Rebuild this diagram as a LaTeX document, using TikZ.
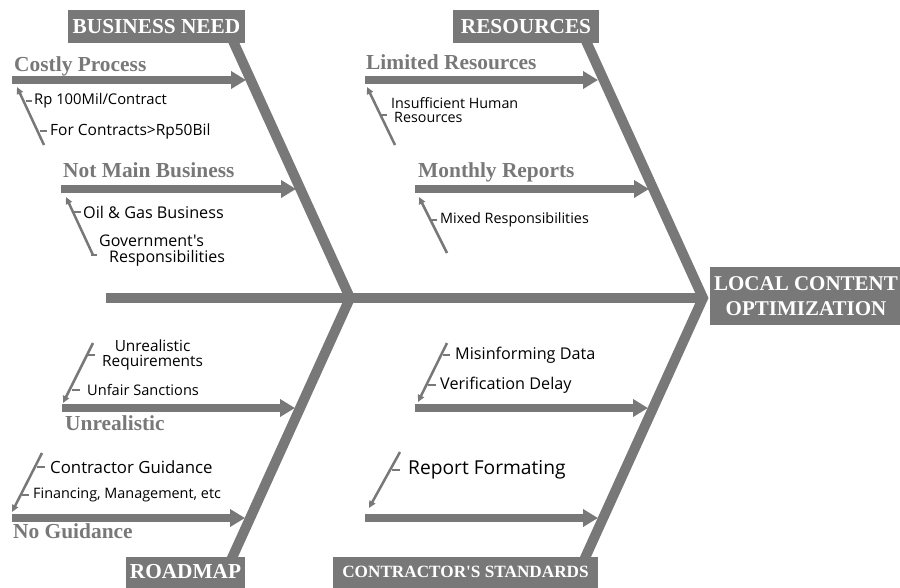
\documentclass[tikz,border=0pt]{standalone}
\usepackage{fontspec}
\setmainfont{Liberation Serif}
\newfontfamily\causefont{Open Sans}
\usetikzlibrary{arrows.meta}
\definecolor{fg}{HTML}{787878}
\newcommand{\csize}[1]{\causefont\fontsize{#1}{#1}\selectfont}
\begin{document}
\begin{tikzpicture}[x=1pt,y=-1pt,
  bone/.style={draw=fg, line width=10pt, line join=miter},
  catarrow/.style={draw=fg, line width=8pt, -{Triangle[length=15pt,width=17pt]}},
  subarrow/.style={draw=fg, line width=2.5pt, -{Triangle[length=7pt,width=6.5pt]}},
  tickline/.style={draw=fg, line width=1.5pt},
  headbox/.style={fill=fg, text=white, font=\bfseries\fontsize{21.3}{25}\selectfont, inner sep=0pt, align=center},
  catlabel/.style={text=fg, font=\bfseries\fontsize{21.4}{23}\selectfont, anchor=base west, inner sep=0pt},
  cause/.style={anchor=west, inner sep=0pt, align=left},
]
\useasboundingbox (0,0) rectangle (900,587);

% ---- spine and bones
\coordinate (tail) at (106,298);
\coordinate (J1) at (350,298);
\coordinate (J2) at (703,298);
\coordinate (ul) at (228,30);
\coordinate (ll) at (222,580);
\coordinate (ur) at (581,30);
\coordinate (lr) at (575,580);
\draw[bone] (tail) -- (J2);
\draw[bone] (ul) -- (J1) -- (ll);
\draw[bone] (ur) -- (J2) -- (lr);

% ---- heads
\node[headbox, minimum width=192pt, minimum height=58pt, font=\bfseries\fontsize{21}{24.5}\selectfont] (effect) at (806,296) {LOCAL CONTENT\\OPTIMIZATION};
\node[headbox, minimum width=177pt, minimum height=33pt] (bn) at (156.5,26.5) {BUSINESS NEED};
\node[headbox, minimum width=146pt, minimum height=33pt] (res) at (526,26.5) {RESOURCES};
\node[headbox, minimum width=119pt, minimum height=31pt] (rm) at (185.5,572) {ROADMAP};
\node[headbox, minimum width=265pt, minimum height=31pt, font=\bfseries\fontsize{17.2}{19}\selectfont] (cs) at (465.5,572) {CONTRACTOR\textquotesingle S STANDARDS};

% ---- BUSINESS NEED
\coordinate (cp0) at (12,80); \coordinate (cp1) at (246,80);
\draw[catarrow] (cp0) -- (cp1);
\node[catlabel] (cpl) at (14,71) {Costly Process};
\coordinate (cps0) at (44,145); \coordinate (cps1) at (17,87);
\draw[subarrow] (cps0) -- (cps1);
\node[cause, font=\csize{14.8}] (c1) at (34,101) {Rp 100Mil/Contract};
\draw[tickline] ([xshift=-2pt]c1.west) -- ++(-6,0);
\node[cause, font=\csize{15.5}] (c2) at (50,131) {For Contracts>Rp50Bil};
\draw[tickline] ([xshift=-3pt]c2.west) -- ++(-7,0);

\coordinate (nm0) at (61,189); \coordinate (nm1) at (296,189);
\draw[catarrow] (nm0) -- (nm1);
\node[catlabel] (nml) at (63,177) {Not Main Business};
\coordinate (nms0) at (93,255); \coordinate (nms1) at (66,197);
\draw[subarrow] (nms0) -- (nms1);
\node[cause, font=\csize{16.2}] (c3) at (83,212) {Oil \& Gas Business};
\draw[tickline] ([xshift=-2pt]c3.west) -- ++(-7,0);
\node[cause, font=\csize{16}] (c4) at (99,251) {Government's\\\hspace*{10pt}Responsibilities};
\draw[tickline] ([xshift=-2pt,yshift=-4pt]c4.west) -- ++(-6,0);

% ---- RESOURCES
\coordinate (lr0) at (365,80); \coordinate (lr1) at (598,80);
\draw[catarrow] (lr0) -- (lr1);
\node[catlabel] (lrl) at (366,69) {Limited Resources};
\coordinate (lrs0) at (395,145); \coordinate (lrs1) at (367,87);
\draw[subarrow] (lrs0) -- (lrs1);
\node[cause, font=\csize{14.3}] (c5) at (391,110) {Insufficient Human\\\hspace*{3pt}Resources};
\draw[tickline] ([xshift=-4pt,yshift=-5pt]c5.west) -- ++(-6,0);

\coordinate (mr0) at (415,189); \coordinate (mr1) at (649,189);
\draw[catarrow] (mr0) -- (mr1);
\node[catlabel] (mrl) at (418,177) {Monthly Reports};
\coordinate (mrs0) at (447,253); \coordinate (mrs1) at (419,197);
\draw[subarrow] (mrs0) -- (mrs1);
\node[cause, font=\csize{14.4}] (c6) at (440,220) {Mixed Responsibilities};
\draw[tickline] ([xshift=-3pt]c6.west) -- ++(-6,0);

% ---- ROADMAP
\coordinate (un0) at (62,408); \coordinate (un1) at (295,408);
\draw[catarrow] (un0) -- (un1);
\node[catlabel] (unl) at (65,430) {Unrealistic};
\coordinate (uns0) at (93,343); \coordinate (uns1) at (63,403);
\draw[subarrow] (uns0) -- (uns1);
\node[cause, align=center, font=\csize{15.4}] (c7) at (102,355) {Unrealistic\\Requirements};
\draw[tickline] ([xshift=-7pt]c7.west) -- ++(-7,0);
\node[cause, font=\csize{14.6}] (c8) at (87,390) {Unfair Sanctions};
\draw[tickline] ([xshift=-7pt]c8.west) -- ++(-8,0);

\coordinate (ng0) at (12,518); \coordinate (ng1) at (245,518);
\draw[catarrow] (ng0) -- (ng1);
\node[catlabel] (ngl) at (13,538) {No Guidance};
\coordinate (ngs0) at (42,453); \coordinate (ngs1) at (12,512);
\draw[subarrow] (ngs0) -- (ngs1);
\node[cause, font=\csize{16.8}] (c9) at (50,467) {Contractor Guidance};
\draw[tickline] ([xshift=-5pt]c9.west) -- ++(-8,0);
\node[cause, font=\csize{14.4}] (c10) at (33,495) {Financing, Management, etc};
\draw[tickline] ([xshift=-4pt]c10.west) -- ++(-7,0);

% ---- CONTRACTOR'S STANDARDS
\coordinate (vd0) at (415,408); \coordinate (vd1) at (648,408);
\draw[catarrow] (vd0) -- (vd1);
\coordinate (vds0) at (447,343); \coordinate (vds1) at (418,402);
\draw[subarrow] (vds0) -- (vds1);
\node[cause, font=\csize{16.2}] (c11) at (455,355) {Misinforming Data};
\draw[tickline] ([xshift=-5pt]c11.west) -- ++(-7,0);
\node[cause, font=\csize{16.2}] (c12) at (440,385) {Verification Delay};
\draw[tickline] ([xshift=-4pt]c12.west) -- ++(-8,0);

\coordinate (rf0) at (365,518); \coordinate (rf1) at (598,518);
\draw[catarrow] (rf0) -- (rf1);
\coordinate (rfs0) at (400,452); \coordinate (rfs1) at (369,508);
\draw[subarrow] (rfs0) -- (rfs1);
\node[cause, font=\csize{19.2}] (c13) at (408,470) {Report Formating};
\draw[tickline] ([xshift=-8pt]c13.west) -- ++(-8,0);
\end{tikzpicture}
\end{document}
